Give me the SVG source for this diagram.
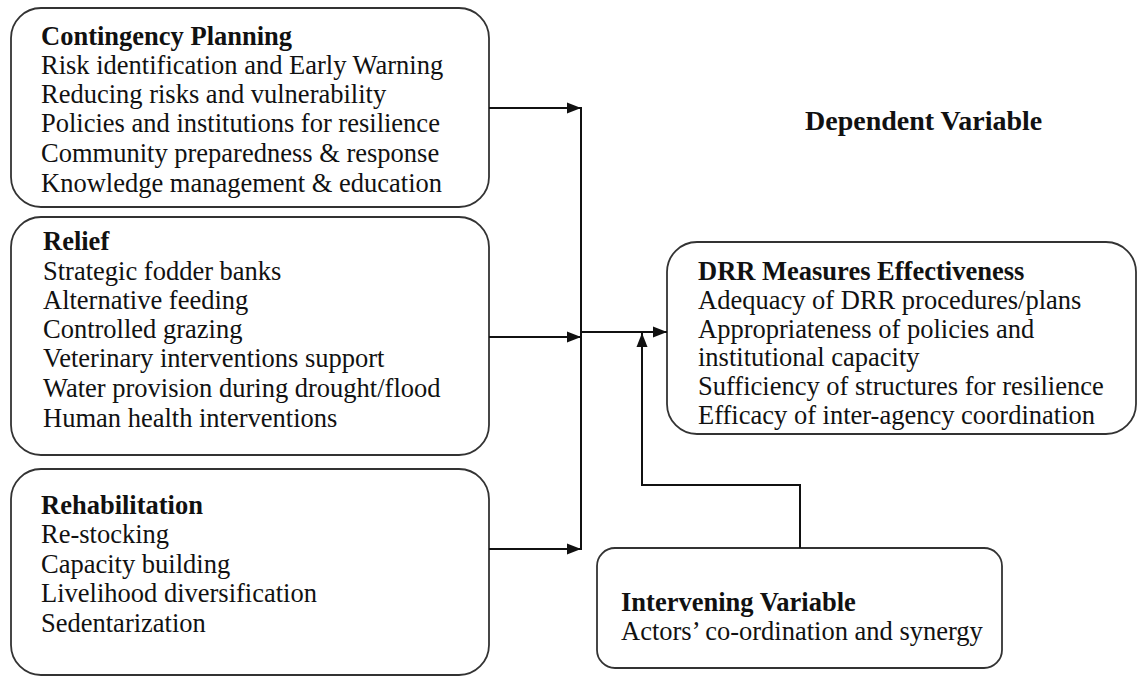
<svg xmlns="http://www.w3.org/2000/svg" width="1138" height="677" viewBox="0 0 1138 677">
<style>
.box{fill:#fff;stroke:#333;stroke-width:1.8}
text{font-family:"Liberation Serif","Times New Roman",serif;font-size:26.5px;fill:#111}
.b{font-weight:bold}
.c{fill:none;stroke:#111;stroke-width:2}
</style>
<defs>
<marker id="ah" markerWidth="14" markerHeight="12" refX="14" refY="6" orient="auto" markerUnits="userSpaceOnUse">
<path d="M0,0.5 L14,6 L0,11.5 z" fill="#111"/>
</marker>
</defs>
<rect width="1138" height="677" fill="#fff"/>
<g id="contingency">
<rect class="box" x="11" y="8" width="478" height="199" rx="30"/>
<text x="41" y="45" class="b">Contingency Planning</text>
<text x="41" y="74">Risk identification and Early Warning</text>
<text x="41" y="103">Reducing risks and vulnerability</text>
<text x="41" y="132">Policies and institutions for resilience</text>
<text x="41" y="162">Community preparedness &amp; response</text>
<text x="41" y="192">Knowledge management &amp; education</text>
</g>
<g id="relief">
<rect class="box" x="11" y="217" width="478" height="238" rx="30"/>
<text x="43" y="250" class="b">Relief</text>
<text x="43" y="280">Strategic fodder banks</text>
<text x="43" y="309">Alternative feeding</text>
<text x="43" y="338">Controlled grazing</text>
<text x="43" y="367">Veterinary interventions support</text>
<text x="43" y="397">Water provision during drought/flood</text>
<text x="43" y="427">Human health interventions</text>
</g>
<g id="rehabilitation">
<rect class="box" x="11" y="469" width="478" height="206" rx="30"/>
<text x="41" y="514" class="b">Rehabilitation</text>
<text x="41" y="543">Re-stocking</text>
<text x="41" y="573">Capacity building</text>
<text x="41" y="602">Livelihood diversification</text>
<text x="41" y="632">Sedentarization</text>
</g>
<g id="drr">
<rect class="box" x="667" y="242" width="469" height="192" rx="30"/>
<text x="698" y="280" class="b">DRR Measures Effectiveness</text>
<text x="698" y="309">Adequacy of DRR procedures/plans</text>
<text x="698" y="338">Appropriateness of policies and</text>
<text x="698" y="366">institutional capacity</text>
<text x="698" y="395">Sufficiency of structures for resilience</text>
<text x="698" y="424">Efficacy of inter-agency coordination</text>
</g>
<g id="intervening">
<rect class="box" x="597" y="548" width="405" height="120" rx="18"/>
<text x="621" y="611" class="b">Intervening Variable</text>
<text x="621" y="640">Actors’ co-ordination and synergy</text>
</g>
<g id="dependent-label">
<text x="805" y="130" class="b" style="font-size:28px">Dependent Variable</text>
</g>
<g id="connectors">
<line class="c" x1="489" y1="108" x2="581" y2="108" marker-end="url(#ah)"/>
<line class="c" x1="489" y1="337" x2="581" y2="337" marker-end="url(#ah)"/>
<line class="c" x1="489" y1="549" x2="581" y2="549" marker-end="url(#ah)"/>
<line class="c" x1="581" y1="107" x2="581" y2="550"/>
<line class="c" x1="581" y1="332" x2="667" y2="332" marker-end="url(#ah)"/>
<polyline class="c" points="800,548 800,485 642,485 642,333" marker-end="url(#ah)"/>
</g>
</svg>
